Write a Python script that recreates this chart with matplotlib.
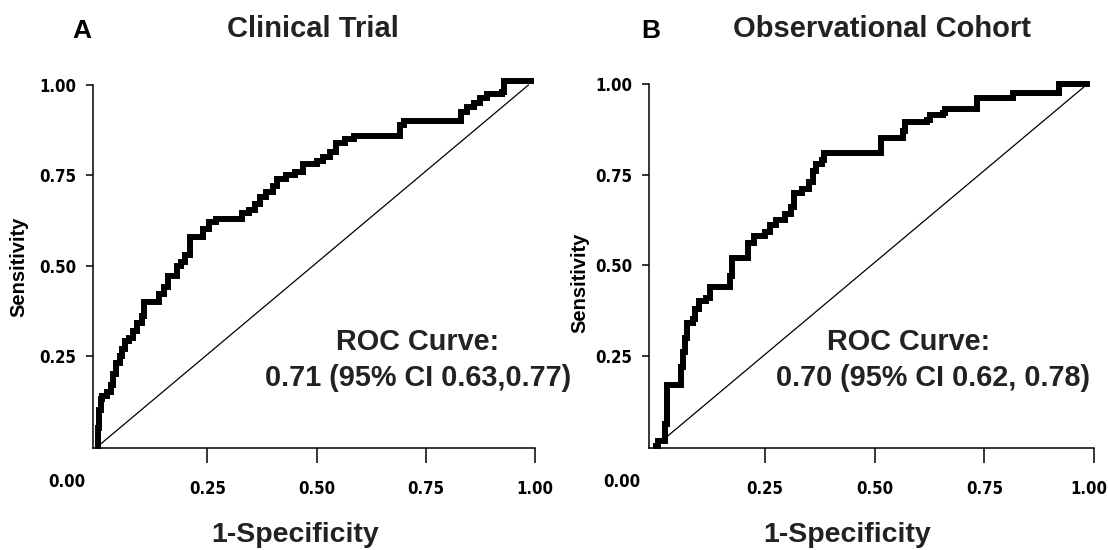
import matplotlib
matplotlib.use("Agg")
import matplotlib.pyplot as plt
import matplotlib.transforms as mtransforms
from matplotlib import font_manager as fm

# ---------------- data ----------------
fpr_a = [0.0, 0.0, 0.003, 0.006, 0.01, 0.02, 0.03, 0.035, 0.042, 0.05, 0.055, 0.062,
         0.07, 0.08, 0.09, 0.10, 0.105, 0.13, 0.14, 0.15, 0.16, 0.178, 0.18, 0.19,
         0.20, 0.21, 0.23, 0.24, 0.255, 0.27, 0.32, 0.33, 0.345, 0.36, 0.37, 0.385,
         0.40, 0.41, 0.43, 0.45, 0.47, 0.50, 0.515, 0.53, 0.545, 0.565, 0.585, 0.68,
         0.69, 0.70, 0.82, 0.83, 0.845, 0.86, 0.875, 0.89, 0.925, 0.93, 0.99]
tpr_a = [0.0, 0.05, 0.10, 0.13, 0.14, 0.15, 0.17, 0.20, 0.23, 0.25, 0.27, 0.29,
         0.30, 0.32, 0.34, 0.36, 0.40, 0.40, 0.42, 0.44, 0.47, 0.47, 0.50, 0.51,
         0.53, 0.58, 0.58, 0.60, 0.62, 0.63, 0.63, 0.645, 0.655, 0.67, 0.69, 0.705,
         0.72, 0.74, 0.75, 0.76, 0.78, 0.79, 0.80, 0.815, 0.84, 0.85, 0.86, 0.86,
         0.89, 0.90, 0.90, 0.925, 0.94, 0.95, 0.965, 0.975, 0.98, 1.01, 1.01]

fpr_b = [0.0, 0.005, 0.02, 0.022, 0.025, 0.027, 0.055, 0.058, 0.063, 0.068, 0.072,
         0.085, 0.09, 0.10, 0.115, 0.125, 0.16, 0.17, 0.175, 0.205, 0.21, 0.225,
         0.25, 0.26, 0.275, 0.295, 0.31, 0.315, 0.335, 0.35, 0.36, 0.365, 0.38,
         0.385, 0.51, 0.515, 0.555, 0.565, 0.57, 0.62, 0.625, 0.655, 0.66, 0.73,
         0.733, 0.81, 0.815, 0.915, 0.92, 0.985]
tpr_b = [0.0, 0.015, 0.015, 0.06, 0.09, 0.17, 0.17, 0.22, 0.26, 0.30, 0.34,
         0.35, 0.38, 0.40, 0.41, 0.44, 0.44, 0.47, 0.52, 0.52, 0.56, 0.58,
         0.59, 0.61, 0.625, 0.64, 0.66, 0.70, 0.71, 0.73, 0.76, 0.78, 0.79,
         0.81, 0.81, 0.85, 0.85, 0.87, 0.895, 0.90, 0.915, 0.92, 0.93, 0.93,
         0.96, 0.96, 0.975, 0.975, 1.0, 1.0]

diag_x = [0.0, 0.985]
diag_y = [0.0, 1.0]
xticks = [0.25, 0.50, 0.75, 1.00]
yticks = [0.25, 0.50, 0.75, 1.00]
xtick_labels = ["0.25", "0.50", "0.75", "1.00"]
ytick_labels = ["0.25", "0.50", "0.75", "1.00"]

panel_letters = ["A", "B"]
titles = ["Clinical Trial", "Observational Cohort"]
roc_line1 = ["ROC Curve:", "ROC Curve:"]
roc_line2 = ["0.71 (95% CI 0.63,0.77)", "0.70 (95% CI 0.62, 0.78)"]

# ---------------- fonts ----------------
names = {f.name for f in fm.fontManager.ttflist}
main_font = "Liberation Sans" if "Liberation Sans" in names else "DejaVu Sans"
if "Liberation Sans Narrow" in names:
    tick_fp = fm.FontProperties(family="Liberation Sans Narrow", weight="bold", size=13.5)
else:
    cond = [f for f in fm.fontManager.ttflist
            if "condensed" in str(f.stretch).lower() or "Condensed" in f.fname]
    if cond:
        cf = [f for f in cond if "Bold" in f.fname and "Oblique" not in f.fname] or cond
        tick_fp = fm.FontProperties(fname=cf[0].fname, size=12)
    else:
        tick_fp = fm.FontProperties(family=main_font, weight="bold", size=11)

W, H = 1108, 550
fig = plt.figure(figsize=(W / 100, H / 100), dpi=100)

def fx(px):
    return px / W

def fy(py):
    return 1 - py / H

# left px, right px (x=1), top px (y=1), bottom px, xmin
axes_px = [(93, 535, 85, 448, -0.0115), (649, 1094, 84, 448, -0.015)]
curves = [(fpr_a, tpr_a), (fpr_b, tpr_b)]
letter_pos = [(82, 31), (651, 31)]
title_pos = [(313, 29), (882, 29)]
ylab_pos = [(19, 267), (580, 283)]
zero_pos = [(67, 482), (622, 482)]
xlab_pos = [(295, 535), (847, 535)]
roc1_pos = [(418, 342), (909, 342)]
roc2_pos = [(418, 378), (933, 378)]

for i in range(2):
    l, r, t, b, x0 = axes_px[i]
    ax = fig.add_axes([fx(l), fy(b), fx(r - l), (b - t) / H])
    ax.set_xlim(x0, 1.0)
    ax.set_ylim(-0.005, 1.0)
    ax.plot(diag_x, diag_y, color="black", lw=0.9, clip_on=False)
    fpr, tpr = curves[i]
    ax.plot(fpr, tpr, color="black", lw=4.3, drawstyle="steps-post",
            solid_joinstyle="miter", clip_on=False)
    for s in ["top", "right"]:
        ax.spines[s].set_visible(False)
    for s in ["left", "bottom"]:
        ax.spines[s].set_linewidth(1.1)
    ax.set_xticks(xticks)
    ax.set_xticklabels(xtick_labels)
    ax.set_yticks(yticks)
    ax.set_yticklabels(ytick_labels)
    ax.tick_params(axis="x", direction="out", length=11, width=1.1, pad=12)
    ax.tick_params(axis="y", direction="out", length=5, width=1.1, pad=7)
    for lab in ax.get_xticklabels() + ax.get_yticklabels():
        lab.set_fontproperties(tick_fp)
    if i == 1:
        # keep the last x tick label inside the figure (right edge at ~1107 px)
        last = ax.get_xticklabels()[-1]
        last.set_horizontalalignment("right")
        last.set_transform(last.get_transform() +
                           mtransforms.ScaledTranslation(0.13, 0, fig.dpi_scale_trans))

    fig.text(fx(letter_pos[i][0]), fy(letter_pos[i][1]), panel_letters[i],
             ha="center", va="center", fontsize=19, fontweight="bold",
             family=main_font)
    fig.text(fx(title_pos[i][0]), fy(title_pos[i][1]), titles[i],
             ha="center", va="center", fontsize=21, fontweight="bold",
             family=main_font, color="#222222")
    fig.text(fx(ylab_pos[i][0]), fy(ylab_pos[i][1]), "Sensitivity",
             ha="center", va="center", rotation=90, fontsize=14.5,
             fontweight="bold", family=main_font)
    fig.text(fx(zero_pos[i][0]), fy(zero_pos[i][1]), "0.00",
             ha="center", va="center", fontproperties=tick_fp)
    fig.text(fx(xlab_pos[i][0]), fy(xlab_pos[i][1]), "1-Specificity",
             ha="center", va="center", fontsize=20.5, fontweight="bold",
             family=main_font, color="#222222")
    fig.text(fx(roc1_pos[i][0]), fy(roc1_pos[i][1]), roc_line1[i],
             ha="center", va="center", fontsize=20.8, fontweight="bold",
             family=main_font, color="#222222")
    fig.text(fx(roc2_pos[i][0]), fy(roc2_pos[i][1]), roc_line2[i],
             ha="center", va="center", fontsize=20.8, fontweight="bold",
             family=main_font, color="#222222")

fig.savefig("out.png", dpi=100)
